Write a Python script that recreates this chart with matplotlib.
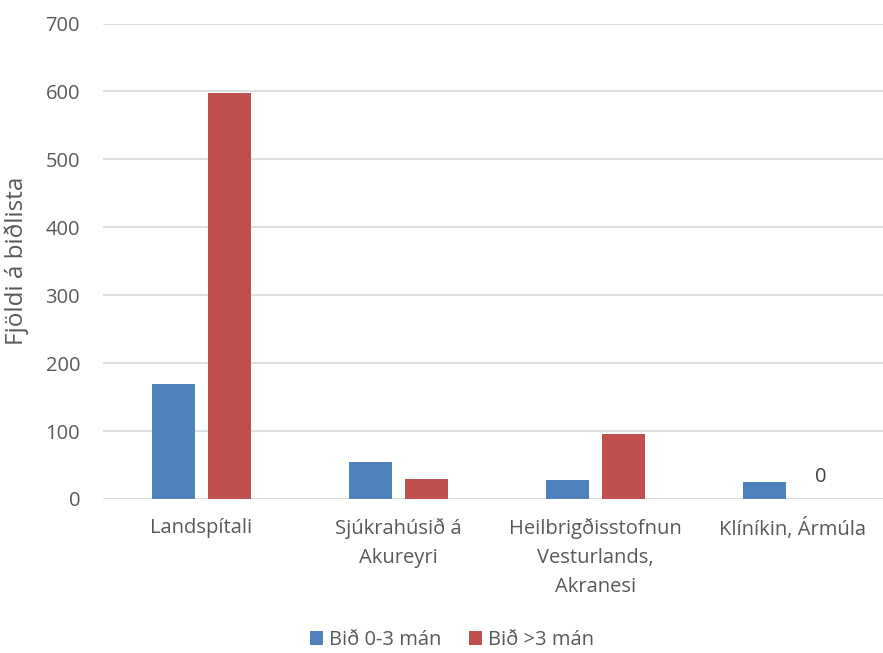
import matplotlib

matplotlib.use('Agg')
import matplotlib.pyplot as plt
import numpy as np

categories = ['Landspítali', 'Sjúkrahúsið á\nAkureyri',
              'Heilbrigðisstofnun\nVesturlands,\nAkranesi', 'Klíníkin, Ármúla']
short_wait = [169, 54, 28, 25]
long_wait = [597, 29, 96, 0]
series_names = ['Bið 0-3 mán', 'Bið >3 mán']
yticks = [0, 100, 200, 300, 400, 500, 600, 700]

BLUE = '#4f81bd'
RED = '#c0504d'
GREY = '#595959'
GRID = '#d9d9d9'
FS = 14.5

plt.rcParams['font.family'] = ['Open Sans', 'DejaVu Sans']

W, H = 883, 653
fig = plt.figure(figsize=(W / 100, H / 100), dpi=100)
# axes box in pixels: left 103, top 23.5, bottom 499, width 788
ax = fig.add_axes([103 / W, 1 - 499 / H, 788 / W, (499 - 23.5) / H])

x = np.arange(len(categories))
bw = 0.223
off = 0.142
b1 = ax.bar(x - off, short_wait, bw, color=BLUE, label=series_names[0], zorder=3)
b2 = ax.bar(x + off, long_wait, bw, color=RED, label=series_names[1], zorder=3)

ax.text(x[3] + off, 18, '0', ha='center', va='bottom', fontsize=FS, color='#404040')

ax.set_xlim(-0.5, len(categories) - 0.5)
ax.set_ylim(0, 700)
ax.set_yticks(yticks)
ax.set_xticks(x)
ax.set_xticklabels(categories, fontsize=FS, color=GREY, linespacing=1.6)
ax.tick_params(axis='y', labelsize=FS, labelcolor=GREY, length=0, pad=16.5)
ax.tick_params(axis='x', length=0, pad=14)
ax.grid(axis='y', color=GRID, linewidth=1.2, zorder=0)
for s in ax.spines.values():
    s.set_visible(False)
ax.set_ylabel('Fjöldi á biðlista', fontsize=17.5, color=GREY)
ax.yaxis.set_label_coords(-(103 - 29) / 788, 0.5)

fig.legend(handles=[b1, b2], loc='center', bbox_to_anchor=(452 / W, 1 - 640 / H),
           ncol=2, frameon=False, fontsize=FS, labelcolor=GREY,
           handlelength=0.65, handleheight=0.65, handletextpad=0.3, columnspacing=1.4)

fig.savefig('out.png', dpi=100)
